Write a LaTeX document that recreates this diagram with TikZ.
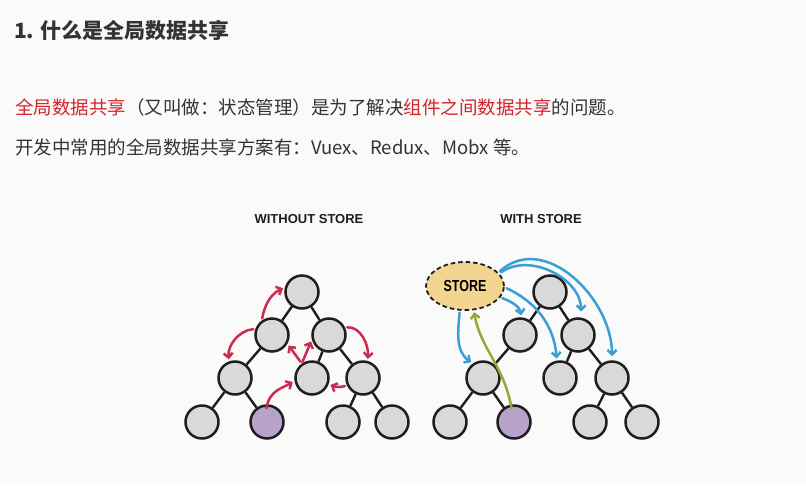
\documentclass[tikz,border=0pt]{standalone}
\usepackage{fontspec}
\newfontfamily\cjk{Noto Sans CJK SC}
\newfontfamily\hd{Liberation Sans}
\usetikzlibrary{arrows.meta,shapes.geometric}
\definecolor{bg}{HTML}{FAFAFA}
\definecolor{txt}{HTML}{333333}
\definecolor{hl}{HTML}{D4232B}
\definecolor{nodefill}{HTML}{D9D9D9}
\definecolor{edgec}{HTML}{1E1E1E}
\definecolor{purp}{HTML}{B7A2CA}
\definecolor{redarr}{HTML}{CC2B50}
\definecolor{bluearr}{HTML}{3A9FD5}
\definecolor{greenarr}{HTML}{98A83C}
\definecolor{storefill}{HTML}{F1D590}
\tikzset{
  tnode/.style={circle, draw=edgec, line width=2.5pt, fill=nodefill, minimum size=33pt, inner sep=0pt},
  pnode/.style={tnode, fill=purp},
  tedge/.style={draw=edgec, line width=2.4pt},
  arrbase/.style={line width=2.5pt, line cap=round, -{Straight Barb[length=4.5pt,width=9pt]}, shorten <=2pt, shorten >=2pt},
  rarr/.style={arrbase, draw=redarr},
  barr/.style={arrbase, draw=bluearr},
  garr/.style={arrbase, draw=greenarr},
  storebox/.style={ellipse, draw=edgec, line width=1.8pt, dash pattern=on 4.5pt off 3pt, fill=storefill, minimum width=78pt, minimum height=48pt, inner sep=0pt},
  heading/.style={font=\hd\bfseries\fontsize{13}{15}\selectfont, text=edgec, inner sep=0pt}
}
\begin{document}
\begin{tikzpicture}[x=1pt,y=-1pt]
\useasboundingbox (0,0) rectangle (806,485);
\fill[bg] (0,0) rectangle (806,485);
% texts
\node[anchor=west, inner sep=0pt, text=txt, font=\cjk\bfseries\fontsize{21}{24}\selectfont] (title) at (14,30) {1. 什么是全局数据共享};
\node[anchor=west, inner sep=0pt, text=txt, font=\cjk\fontsize{18.5}{22}\selectfont] (line1) at (15,107) {\textcolor{hl}{全局数据共享}（又叫做：状态管理）是为了解决\textcolor{hl}{组件之间数据共享}的问题。};
\node[anchor=west, inner sep=0pt, text=txt, font=\cjk\fontsize{18.5}{22}\selectfont] (line2) at (15,147) {开发中常用的全局数据共享方案有：Vuex、Redux、Mobx 等。};
\node[heading] (h1) at (309,219) {WITHOUT STORE};
\node[heading] (h2) at (541,219) {WITH STORE};
% left tree
\node[tnode] (R) at (302,292) {};
\node[tnode] (A) at (272,335) {};
\node[tnode] (B) at (329,335) {};
\node[tnode] (C) at (235,378) {};
\node[tnode] (D) at (312,378) {};
\node[tnode] (E) at (363,378) {};
\node[tnode] (F) at (202,422) {};
\node[pnode] (G) at (267,422) {};
\node[tnode] (H) at (343,422) {};
\node[tnode] (I) at (392,422) {};
\draw[tedge] (R) -- (A); \draw[tedge] (R) -- (B);
\draw[tedge] (A) -- (C);
\draw[tedge] (B) -- (D); \draw[tedge] (B) -- (E);
\draw[tedge] (C) -- (F); \draw[tedge] (C) -- (G);
\draw[tedge] (E) -- (H); \draw[tedge] (E) -- (I);
% red arrows
\draw[rarr] (A.125) to[out=80,in=205] (R.165);
\draw[rarr] (A.160) to[out=185,in=95] (C.110);
\draw[rarr] (D.125) -- (A.-30);
\draw[rarr] (D.125) -- (B.195);
\draw[rarr] (B.25) to[out=5,in=85] (E.75);
\draw[rarr] (E.205) to[bend left=20] (D.-20);
\draw[rarr, shorten <=-4pt] (G.90) to[out=80,in=210] (D.190);
% right tree
\node[tnode] (R2) at (550,292) {};
\node[tnode] (A2) at (520,335) {};
\node[tnode] (B2) at (578,335) {};
\node[tnode] (C2) at (483,378) {};
\node[tnode] (D2) at (560,378) {};
\node[tnode] (E2) at (612,378) {};
\node[tnode] (F2) at (450,422) {};
\node[pnode] (G2) at (514,422) {};
\node[tnode] (H2) at (590,422) {};
\node[tnode] (I2) at (642,422) {};
\draw[tedge] (R2) -- (A2); \draw[tedge] (R2) -- (B2);
\draw[tedge] (A2) -- (C2);
\draw[tedge] (B2) -- (D2); \draw[tedge] (B2) -- (E2);
\draw[tedge] (C2) -- (F2); \draw[tedge] (C2) -- (G2);
\draw[tedge] (E2) -- (H2); \draw[tedge] (E2) -- (I2);
% store
\node[storebox] (S) at (465,286) {\hd\bfseries\fontsize{16}{17}\selectfont\scalebox{0.78}[1]{STORE}};
% blue arrows
\draw[barr] (S.258) to[out=-95,in=145] (C2.125);
\draw[barr] (S.-18) to[out=-20,in=100] (A2.85);
\draw[barr] (S.-2) to[out=-25,in=95] (D2.100);
\draw[barr, shorten >=6pt] (S.20) to[out=35,in=90,looseness=1.05] (B2.80);
\draw[barr, shorten >=4pt] (S.22) to[out=42,in=90,looseness=1.1] (E2.90);
% green arrow
\draw[garr, shorten <=-4pt] (G2.100) to[out=100,in=-80] (S.-70);
\end{tikzpicture}
\end{document}
